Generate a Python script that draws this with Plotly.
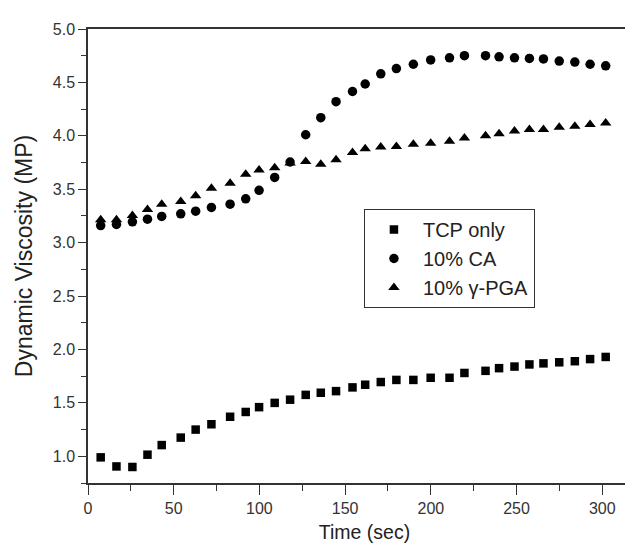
import plotly.graph_objects as go

time_s = [7.4, 16.6, 25.9, 34.7, 43.0, 54.1, 62.8, 72.0, 82.9, 92.0, 99.8,
          108.9, 117.9, 127.0, 135.8, 144.7, 154.3, 161.7, 170.8, 179.9, 189.8,
          199.9, 210.9, 219.6, 231.9, 239.8, 248.8, 257.5, 265.7, 274.9, 284.0,
          292.9, 302.0]

tcp_only = [0.99, 0.905, 0.90, 1.015, 1.105, 1.175, 1.25, 1.30, 1.37, 1.415, 1.46,
            1.50, 1.53, 1.575, 1.595, 1.61, 1.645, 1.67, 1.695, 1.715, 1.715,
            1.735, 1.735, 1.78, 1.80, 1.825, 1.84, 1.86, 1.87, 1.88, 1.89,
            1.91, 1.93]

ca_10 = [3.16, 3.17, 3.195, 3.22, 3.245, 3.27, 3.295, 3.33, 3.36, 3.41, 3.49,
         3.61, 3.755, 4.01, 4.17, 4.32, 4.415, 4.485, 4.58, 4.63, 4.67,
         4.71, 4.73, 4.75, 4.75, 4.74, 4.73, 4.725, 4.72, 4.70, 4.69,
         4.67, 4.655]

pga_10 = [3.215, 3.215, 3.255, 3.31, 3.36, 3.385, 3.44, 3.51, 3.555, 3.64, 3.68,
          3.70, 3.745, 3.76, 3.735, 3.775, 3.845, 3.88, 3.895, 3.90, 3.92,
          3.93, 3.95, 3.98, 4.00, 4.02, 4.045, 4.06, 4.06, 4.08, 4.09,
          4.105, 4.12]

series_names = ["TCP only", "10% CA", "10% \u03b3-PGA"]
x_ticks = [0, 50, 100, 150, 200, 250, 300]
y_ticks = [1.0, 1.5, 2.0, 2.5, 3.0, 3.5, 4.0, 4.5, 5.0]

FONT = "Liberation Sans, Arial, sans-serif"

fig = go.Figure()
fig.add_trace(go.Scatter(x=time_s, y=tcp_only, mode="markers", name=series_names[0],
                         marker=dict(symbol="square", size=8.5, color="black")))
fig.add_trace(go.Scatter(x=time_s, y=ca_10, mode="markers", name=series_names[1],
                         marker=dict(symbol="circle", size=9.5, color="black")))
fig.add_trace(go.Scatter(x=time_s, y=pga_10, mode="markers", name=series_names[2],
                         marker=dict(symbol="triangle-up", size=10, color="black")))

line_col = "#333"

fig.update_xaxes(
    showgrid=False, zeroline=False, showline=True, linecolor=line_col, linewidth=1.5,
    mirror=True, range=[0, 322.6], tickmode="array", tickvals=x_ticks,
    ticks="outside", ticklen=10, tickwidth=1.3, tickcolor=line_col,
    tickfont=dict(family=FONT, size=16, color="#333"),
    minor=dict(ticks="outside", ticklen=6, tickwidth=1.3, tickcolor=line_col, dtick=25, tick0=0),
    title=dict(text="Time (sec)", font=dict(family=FONT, size=19.5, color="#222"), standoff=9),
)
fig.update_yaxes(
    showgrid=False, zeroline=False, showline=True, linecolor=line_col, linewidth=1.5,
    range=[0.75, 5.0], tickmode="array", tickvals=y_ticks,
    ticktext=[f"{v:.1f}" for v in y_ticks],
    ticks="outside", ticklen=8, tickwidth=1.3, tickcolor=line_col,
    tickfont=dict(family=FONT, size=16, color="#333"),
    minor=dict(ticks="outside", ticklen=5, tickwidth=1.3, tickcolor=line_col, dtick=0.25, tick0=0),
    title=dict(text="Dynamic Viscosity (MP)", font=dict(family=FONT, size=23, color="#222"), standoff=14),
)

fig.update_layout(
    width=633, height=545,
    margin=dict(l=80, r=0, t=21, b=70),
    paper_bgcolor="white", plot_bgcolor="white",
    showlegend=True,
    legend=dict(
        x=0.499, y=0.6035, xanchor="left", yanchor="top",
        bgcolor="white", bordercolor="#333", borderwidth=1,
        font=dict(family=FONT, size=20, color="#222"),
        itemsizing="trace", itemwidth=48,
    ),
)

fig.write_html("out.html")
